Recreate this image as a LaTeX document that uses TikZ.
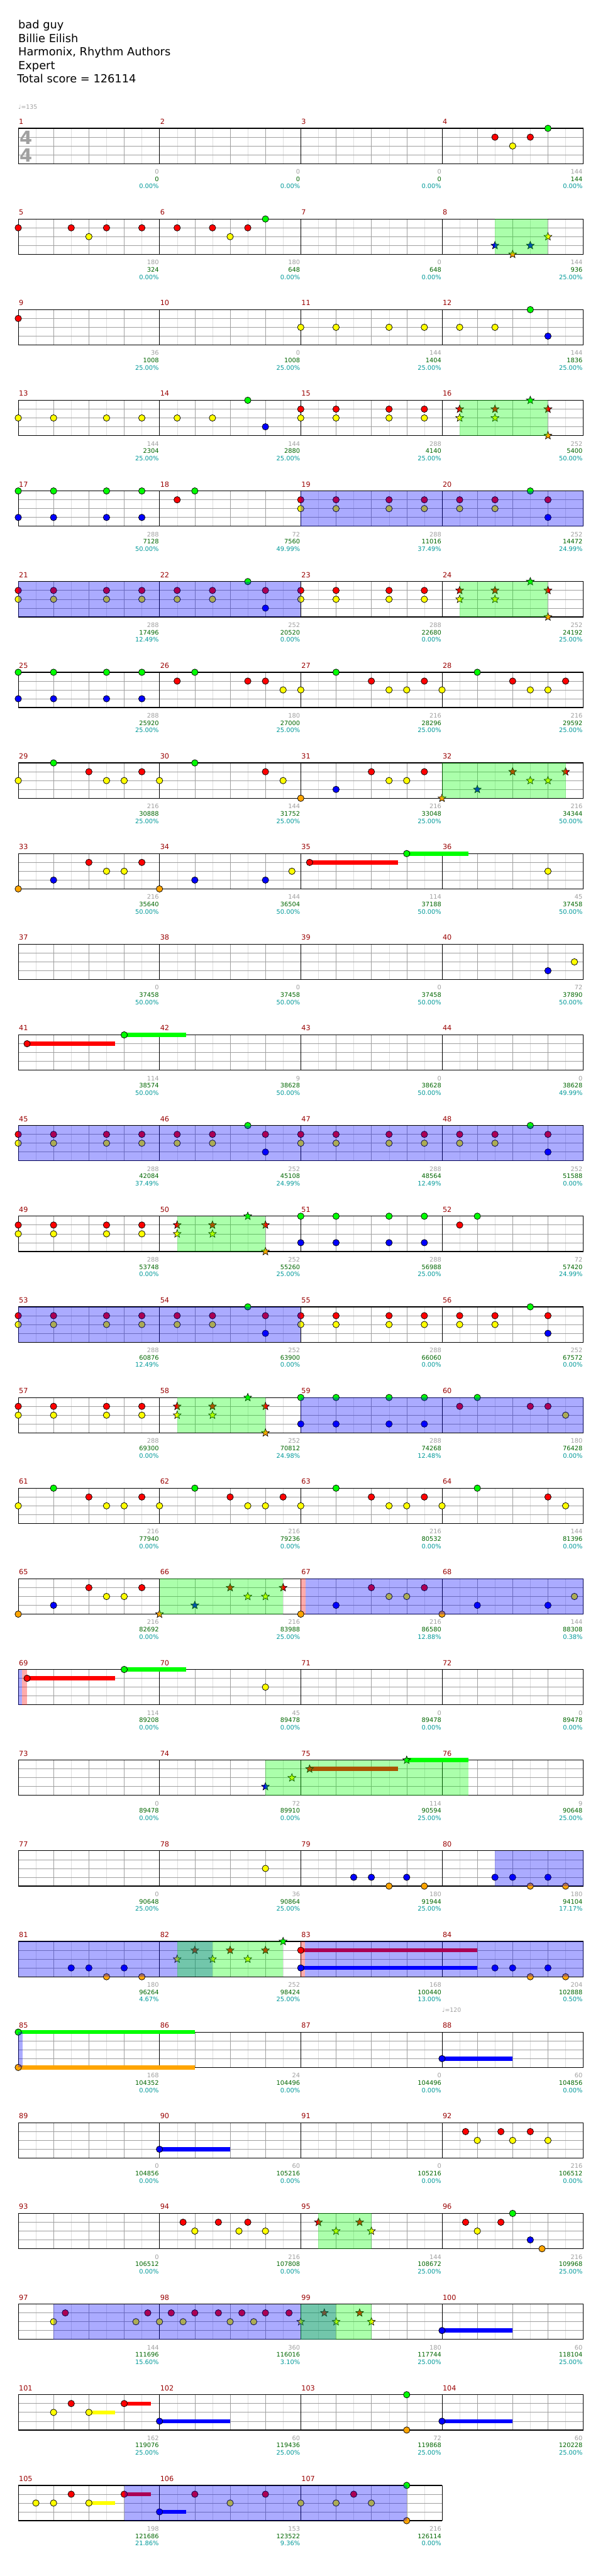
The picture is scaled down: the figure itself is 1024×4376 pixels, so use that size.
\documentclass[tikz,border=0pt]{standalone}
\usepackage{fontspec}
\setmainfont{DejaVu Sans}
\usetikzlibrary{shapes.geometric}
\definecolor{lane0}{RGB}{0,255,0}
\definecolor{lane1}{RGB}{255,0,0}
\definecolor{lane2}{RGB}{255,255,0}
\definecolor{lane3}{RGB}{0,0,255}
\definecolor{lane4}{RGB}{255,165,0}
\definecolor{barnum}{RGB}{153,0,0}
\definecolor{ticknum}{RGB}{160,160,160}
\definecolor{scorenum}{RGB}{0,102,0}
\definecolor{pctnum}{RGB}{0,153,153}
\definecolor{gridmid}{RGB}{160,160,160}
\definecolor{gridlow}{RGB}{222,222,222}

\tikzset{
  note/.style={circle, draw=black, line width=0.8pt, minimum size=11pt, inner sep=0pt},
  starnote/.style={star, star points=5, star point ratio=2.3, draw=black, line width=0.7pt, minimum size=14pt, inner sep=0pt},
  barlabel/.style={anchor=base west, inner sep=0pt, text=barnum, font=\fontsize{12}{12}\selectfont},
  stat/.style={anchor=base east, inner sep=0pt, font=\fontsize{10.5}{10.5}\selectfont},
  headline/.style={anchor=base west, inner sep=0pt, font=\fontsize{19}{19}\selectfont},
  tempo/.style={anchor=base west, inner sep=0pt, text=ticknum, font=\fontsize{10}{10}\selectfont},
}

% one staff row: #1 row, #2 number of bars
\newcommand\staff[2]{%
  \pgfmathsetmacro\yt{218+154*#1}
  \pgfmathsetmacro\rowwd{240*#2}
  \pgfmathtruncatemacro\nsub{8*#2-1}
  \foreach \k in {1,3,...,\nsub} \draw[gridlow] ({31+30*\k},\yt) -- ++(0,60);
  \foreach \k in {2,4,...,\nsub} \draw[gridmid] ({31+30*\k},\yt) -- ++(0,60);
  \foreach \j in {1,2,3} \draw[gridmid, line width=0.8pt] (31,{\yt+15*\j}) -- ++(\rowwd,0);
  \foreach \k in {0,...,#2} \draw[black, line width=0.9pt] ({31+240*\k},\yt) -- ++(0,60);
  \draw[black, line width=1.3pt] (31,\yt) -- ++(\rowwd,0) (31,{\yt+60}) -- ++(\rowwd,0);
  \foreach \k in {1,...,#2} {
    \pgfmathtruncatemacro\bn{4*#1+\k}
    \node[barlabel] (bar\bn) at ({32+240*(\k-1)},{\yt-7}) {\bn};
  }
}
% counts under each bar
\newcommand\stats[2]{%
  \pgfmathsetmacro\yt{218+154*#1}
  \foreach \g/\s/\q [count=\k] in {#2} {
    \node[stat, text=ticknum] (tk-#1-\k) at ({30+240*\k},{\yt+77.5}) {\g};
    \node[stat, text=scorenum] (sc-#1-\k) at ({30+240*\k},{\yt+90}) {\s};
    \node[stat, text=pctnum] (pc-#1-\k) at ({30+240*\k},{\yt+102.5}) {\q\%};
  }
}
% gems: position in sixteenths from row start / lane
\newcommand\notes[2]{%
  \pgfmathsetmacro\yt{218+154*#1}
  \foreach \p/\l [count=\i] in {#2} \node[note, fill=lane\l] (n-#1-\i) at ({31+15*\p},{\yt+15*\l}) {};
}
\newcommand\stars[2]{%
  \pgfmathsetmacro\yt{218+154*#1}
  \foreach \p/\l [count=\i] in {#2} \node[starnote, fill=lane\l] (s-#1-\i) at ({31+15*\p},{\yt+15*\l}) {};
}
\newcommand\sus[4]{%
  \pgfmathsetmacro\yt{218+154*#1}
  \draw[lane#2, line width=7pt] ({31+15*#3},{\yt+15*#2}) -- ({31+15*#4},{\yt+15*#2});
}
% shaded spans
\newcommand\spanfill[4]{%
  \pgfmathsetmacro\yt{218+154*#1}
  \fill[#2, fill opacity=0.33] ({31+15*#3},\yt) rectangle ({31+15*#4},{\yt+60});
}

\begin{document}
\begin{tikzpicture}[x=1pt, y=-1pt]
\useasboundingbox (0,0) rectangle (1024,4376);
\fill[white] (0,0) rectangle (1024,4376);

% header
\node[headline] (song) at (31,49) {bad guy};
\node[headline] (artist) at (31,72) {Billie Eilish};
\node[headline] (charter) at (31,95) {Harmonix, Rhythm Authors};
\node[headline] (level) at (31,118) {Expert};
\node[headline] (total) at (29,141) {Total score = 126114};
\node[tempo] (bpm1) at (31,185) {♩=135};

% bars 1-4
\staff{0}{4}
\node[text=gridmid, font=\bfseries\fontsize{31}{31}\selectfont, inner sep=0pt] (tsig1) at (44,234) {4};
\node[text=gridmid, font=\bfseries\fontsize{31}{31}\selectfont, inner sep=0pt] (tsig2) at (44,263.5) {4};
\notes{0}{54/1,56/2,58/1,60/0}
\stats{0}{0/0/0.00, 0/0/0.00, 0/0/0.00, 144/144/0.00}

% bars 5-8
\staff{1}{4}
\notes{1}{0/1,6/1,8/2,10/1,14/1,18/1,22/1,24/2,26/1,28/0}
\stars{1}{54/3,56/4,58/3,60/2}
\spanfill{1}{lane0}{54}{60}
\stats{1}{180/324/0.00, 180/648/0.00, 0/648/0.00, 144/936/25.00}

% bars 9-12
\staff{2}{4}
\notes{2}{0/1,32/2,36/2,42/2,46/2,50/2,54/2,58/0,60/3}
\stats{2}{36/1008/25.00, 0/1008/25.00, 144/1404/25.00, 144/1836/25.00}

% bars 13-16
\staff{3}{4}
\notes{3}{0/2,4/2,10/2,14/2,18/2,22/2,26/0,28/3,32/1,32/2,36/1,36/2,42/1,42/2,46/1,46/2}
\stars{3}{50/1,50/2,54/1,54/2,58/0,60/1,60/4}
\spanfill{3}{lane0}{50}{60}
\stats{3}{144/2304/25.00, 144/2880/25.00, 288/4140/25.00, 252/5400/50.00}

% bars 17-20
\staff{4}{4}
\notes{4}{0/0,0/3,4/0,4/3,10/0,10/3,14/0,14/3,18/1,20/0}
\notes{4}{32/1,32/2,36/1,36/2,42/1,42/2,46/1,46/2,50/1,50/2,54/1,54/2,58/0,60/1,60/3}
\spanfill{4}{lane3}{32}{64}
\stats{4}{288/7128/50.00, 72/7560/49.99, 288/11016/37.49, 252/14472/24.99}

% bars 21-24
\staff{5}{4}
\notes{5}{0/1,0/2,4/1,4/2,10/1,10/2,14/1,14/2,18/1,18/2,22/1,22/2,26/0,28/1,28/3}
\notes{5}{32/1,32/2,36/1,36/2,42/1,42/2,46/1,46/2}
\stars{5}{50/1,50/2,54/1,54/2,58/0,60/1,60/4}
\spanfill{5}{lane3}{0}{32}
\spanfill{5}{lane0}{50}{60}
\stats{5}{288/17496/12.49, 252/20520/0.00, 288/22680/0.00, 252/24192/25.00}

% bars 25-28
\staff{6}{4}
\notes{6}{0/0,0/3,4/0,4/3,10/0,10/3,14/0,14/3,18/1,20/0,26/1,28/1,30/2}
\notes{6}{32/2,36/0,40/1,42/2,44/2,46/1,48/2,52/0,56/1,58/2,60/2,62/1}
\stats{6}{288/25920/25.00, 180/27000/25.00, 216/28296/25.00, 216/29592/25.00}

% bars 29-32
\staff{7}{4}
\notes{7}{0/2,4/0,8/1,10/2,12/2,14/1,16/2,20/0,28/1,30/2,32/4,36/3,40/1,42/2,44/2,46/1}
\stars{7}{48/4,52/3,56/1,58/2,60/2,62/1}
\spanfill{7}{lane0}{48}{62}
\stats{7}{216/30888/25.00, 144/31752/25.00, 216/33048/25.00, 216/34344/50.00}

% bars 33-36
\staff{8}{4}
\sus{8}{1}{33}{43}
\sus{8}{0}{44}{51}
\notes{8}{0/4,4/3,8/1,10/2,12/2,14/1,16/4,20/3,28/3,31/2,33/1,44/0,60/2}
\stats{8}{216/35640/50.00, 144/36504/50.00, 114/37188/50.00, 45/37458/50.00}

% bars 37-40
\staff{9}{4}
\notes{9}{60/3,63/2}
\stats{9}{0/37458/50.00, 0/37458/50.00, 0/37458/50.00, 72/37890/50.00}

% bars 41-44
\staff{10}{4}
\sus{10}{1}{1}{11}
\sus{10}{0}{12}{19}
\notes{10}{1/1,12/0}
\stats{10}{114/38574/50.00, 9/38628/50.00, 0/38628/50.00, 0/38628/49.99}

% bars 45-48
\staff{11}{4}
\notes{11}{0/1,0/2,4/1,4/2,10/1,10/2,14/1,14/2,18/1,18/2,22/1,22/2,26/0,28/1,28/3}
\notes{11}{32/1,32/2,36/1,36/2,42/1,42/2,46/1,46/2,50/1,50/2,54/1,54/2,58/0,60/1,60/3}
\spanfill{11}{lane3}{0}{64}
\stats{11}{288/42084/37.49, 252/45108/24.99, 288/48564/12.49, 252/51588/0.00}

% bars 49-52
\staff{12}{4}
\notes{12}{0/1,0/2,4/1,4/2,10/1,10/2,14/1,14/2}
\stars{12}{18/1,18/2,22/1,22/2,26/0,28/1,28/4}
\notes{12}{32/0,32/3,36/0,36/3,42/0,42/3,46/0,46/3,50/1,52/0}
\spanfill{12}{lane0}{18}{28}
\stats{12}{288/53748/0.00, 252/55260/25.00, 288/56988/25.00, 72/57420/24.99}

% bars 53-56
\staff{13}{4}
\notes{13}{0/1,0/2,4/1,4/2,10/1,10/2,14/1,14/2,18/1,18/2,22/1,22/2,26/0,28/1,28/3}
\notes{13}{32/1,32/2,36/1,36/2,42/1,42/2,46/1,46/2,50/1,50/2,54/1,54/2,58/0,60/1,60/3}
\spanfill{13}{lane3}{0}{32}
\stats{13}{288/60876/12.49, 252/63900/0.00, 288/66060/0.00, 252/67572/0.00}

% bars 57-60
\staff{14}{4}
\notes{14}{0/1,0/2,4/1,4/2,10/1,10/2,14/1,14/2}
\stars{14}{18/1,18/2,22/1,22/2,26/0,28/1,28/4}
\notes{14}{32/0,32/3,36/0,36/3,42/0,42/3,46/0,46/3,50/1,52/0,58/1,60/1,62/2}
\spanfill{14}{lane0}{18}{28}
\spanfill{14}{lane3}{32}{64}
\stats{14}{288/69300/0.00, 252/70812/24.98, 288/74268/12.48, 180/76428/0.00}

% bars 61-64
\staff{15}{4}
\notes{15}{0/2,4/0,8/1,10/2,12/2,14/1,16/2,20/0,24/1,26/2,28/2,30/1}
\notes{15}{32/2,36/0,40/1,42/2,44/2,46/1,48/2,52/0,60/1,62/2}
\stats{15}{216/77940/0.00, 216/79236/0.00, 216/80532/0.00, 144/81396/0.00}

% bars 65-68
\staff{16}{4}
\spanfill{16}{lane1}{32}{32.53}
\notes{16}{0/4,4/3,8/1,10/2,12/2,14/1}
\stars{16}{16/4,20/3,24/1,26/2,28/2,30/1}
\notes{16}{32/4,36/3,40/1,42/2,44/2,46/1,48/4,52/3,60/3,63/2}
\spanfill{16}{lane0}{16}{30}
\spanfill{16}{lane3}{32.53}{64}
\stats{16}{216/82692/0.00, 216/83988/25.00, 216/86580/12.88, 144/88308/0.38}

% bars 69-72
\staff{17}{4}
\spanfill{17}{lane3}{0}{0.45}
\spanfill{17}{lane1}{0.45}{1}
\sus{17}{1}{1}{11}
\sus{17}{0}{12}{19}
\notes{17}{1/1,12/0,28/2}
\stats{17}{114/89208/0.00, 45/89478/0.00, 0/89478/0.00, 0/89478/0.00}

% bars 73-76
\staff{18}{4}
\sus{18}{1}{33}{43}
\sus{18}{0}{44}{51}
\stars{18}{28/3,31/2,33/1,44/0}
\spanfill{18}{lane0}{28}{51}
\stats{18}{0/89478/0.00, 72/89910/0.00, 114/90594/25.00, 9/90648/25.00}

% bars 77-80
\staff{19}{4}
\notes{19}{28/2,38/3,40/3,42/4,44/3,46/4,54/3,56/3,58/4,60/3,62/4}
\spanfill{19}{lane3}{54}{64}
\stats{19}{0/90648/25.00, 36/90864/25.00, 180/91944/25.00, 180/94104/17.17}

% bars 81-84
\staff{20}{4}
\spanfill{20}{lane1}{32}{32.5}
\sus{20}{1}{32}{52}
\sus{20}{3}{32}{52}
\notes{20}{6/3,8/3,10/4,12/3,14/4,32/1,32/3,54/3,56/3,58/4,60/3,62/4}
\stars{20}{18/2,20/1,22/2,24/1,26/2,28/1,30/0}
\spanfill{20}{lane3}{0}{22}
\spanfill{20}{lane0}{18}{30}
\spanfill{20}{lane3}{32.5}{64}
\stats{20}{180/96264/4.67, 252/98424/25.00, 168/100440/13.00, 204/102888/0.50}
\node[tempo] (bpm2) at (751,3418) {♩=120};

% bars 85-88
\staff{21}{4}
\sus{21}{0}{0}{20}
\sus{21}{4}{0}{20}
\sus{21}{3}{48}{56}
\notes{21}{0/0,0/4,48/3}
\spanfill{21}{lane3}{0}{0.5}
\stats{21}{168/104352/0.00, 24/104496/0.00, 0/104496/0.00, 60/104856/0.00}

% bars 89-92
\staff{22}{4}
\sus{22}{3}{16}{24}
\notes{22}{16/3,50.67/1,52/2,54.67/1,56/2,58/1,60/2}
\stats{22}{0/104856/0.00, 60/105216/0.00, 0/105216/0.00, 216/106512/0.00}

% bars 93-96
\staff{23}{4}
\notes{23}{18.67/1,20/2,22.67/1,25/2,26/1,28/2}
\stars{23}{34/1,36/2,38.67/1,40/2}
\notes{23}{50.67/1,52/2,54.67/1,56/0,58/3,59.33/4}
\spanfill{23}{lane0}{34}{40}
\stats{23}{0/106512/0.00, 216/107808/0.00, 144/108672/25.00, 216/109968/25.00}

% bars 97-100
\staff{24}{4}
\notes{24}{4/2,5.33/1,13.33/2,14.67/1,16/2,17.33/1,18.67/2,20/1,22.67/1,24/2,25.33/1,26.67/2,28/1,30.67/1}
\stars{24}{32/2,34.67/1,36/2,38.67/1,40/2}
\sus{24}{3}{48}{56}
\notes{24}{48/3}
\spanfill{24}{lane3}{4}{36}
\spanfill{24}{lane0}{32}{40}
\stats{24}{144/111696/15.60, 360/116016/3.10, 180/117744/25.00, 60/118104/25.00}

% bars 101-104
\staff{25}{4}
\sus{25}{2}{8}{11}
\sus{25}{1}{12}{15}
\sus{25}{3}{16}{24}
\sus{25}{3}{48}{56}
\notes{25}{4/2,6/1,8/2,12/1,16/3,44/0,44/4,48/3}
\stats{25}{162/119076/25.00, 60/119436/25.00, 72/119868/25.00, 60/120228/25.00}

% bars 105-107
\staff{26}{3}
\sus{26}{2}{8}{11}
\sus{26}{1}{12}{15}
\sus{26}{3}{16}{19}
\notes{26}{2/2,4/2,6/1,8/2,12/1,16/3,20/1,24/2,28/1,32/2,36/2,38/1,40/2,44/0,44/4}
\spanfill{26}{lane3}{12}{44}
\stats{26}{198/121686/21.86, 153/123522/9.36, 216/126114/0.00}
\end{tikzpicture}
\end{document}
